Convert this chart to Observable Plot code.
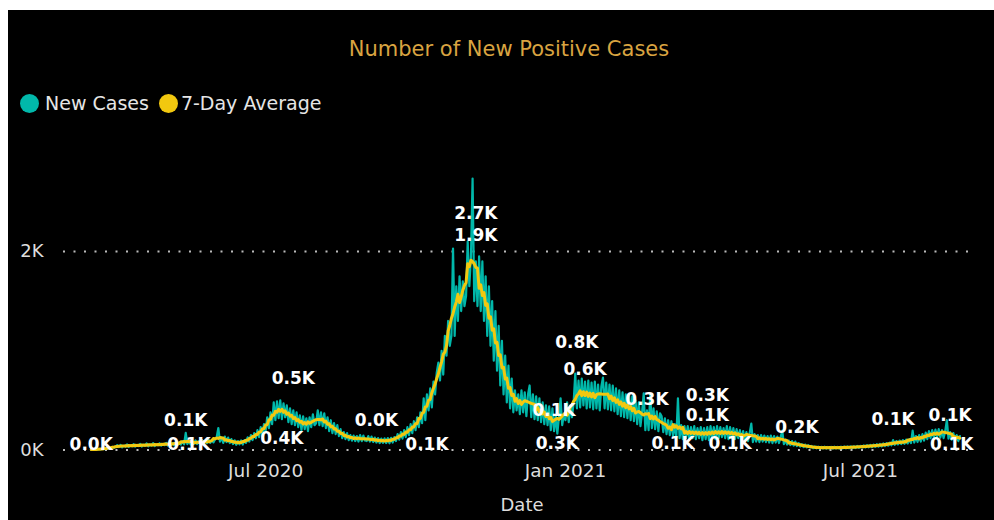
<!DOCTYPE html>
<html>
<head>
<meta charset="utf-8">
<script src="https://cdn.jsdelivr.net/npm/d3@7"></script>
<script src="https://cdn.jsdelivr.net/npm/@observablehq/plot@0.6"></script>
<style>
  html, body { margin: 0; padding: 0; background: #fff; }
  #card { position: absolute; left: 8px; top: 10px; width: 986px; height: 510px; background: #000; overflow: hidden; font-family: "DejaVu Sans", sans-serif; }
  #title { height: 58px; box-sizing: border-box; padding-top: 27px; padding-left: 16px; line-height: 24px; text-align: center; color: #d9a441; font-size: 21px; }
  #legend { height: 70px; box-sizing: border-box; padding-top: 24px; padding-left: 12px; line-height: 22px; color: #e6e6e6; font-size: 19px; white-space: nowrap; }
  #legend .sw { display: inline-block; width: 19px; height: 19px; border-radius: 50%; vertical-align: -3px; }
  #chart svg { display: block; }
</style>
</head>
<body>
<div id="card">
  <div id="title">Number of New Positive Cases</div>
  <div id="legend"><span class="sw" style="background:#01B8AA"></span><span style="margin-left:6px">New Cases</span><span class="sw" style="background:#F2C80F;margin-left:10px"></span><span style="margin-left:3px">7-Day Average</span></div>
  <div id="chart"></div>
</div>
<script>
// Daily new positive cases, starting 2020-03-16
const mar2020 = [2, 5, 1, 8, 4, 12, 6, 15, 9, 18, 12, 25, 16, 32, 22, 35];
const apr2020 = [48, 30, 52, 27, 45, 33, 56, 31, 50, 38, 60, 34, 48, 40, 62, 35, 55, 42, 66, 38, 58, 45, 70, 40, 56, 48, 68, 44, 62, 50];
const may2020 = [72, 45, 78, 50, 70, 48, 82, 52, 76, 55, 88, 58, 172, 60, 92, 56, 85, 62, 96, 60, 88, 66, 100, 64, 94, 70, 104, 72, 98, 76, 108];
const jun2020 = [130, 221, 85, 128, 72, 135, 80, 125, 70, 110, 60, 98, 52, 90, 58, 96, 55, 100, 72, 128, 85, 150, 100, 170, 118, 200, 130, 230, 150, 260];
const jul2020 = [190, 330, 220, 380, 260, 480, 300, 490, 320, 500, 310, 470, 330, 450, 280, 420, 260, 400, 250, 380, 230, 350, 200, 340, 210, 320, 190, 330, 230, 360, 250];
const aug2020 = [270, 400, 250, 380, 240, 370, 220, 330, 190, 300, 170, 270, 160, 250, 140, 210, 120, 180, 110, 170, 100, 150, 95, 145, 90, 140, 85, 150, 90, 145, 95];
const sep2020 = [90, 140, 85, 135, 80, 125, 75, 120, 70, 115, 72, 118, 70, 120, 68, 122, 75, 130, 90, 160, 105, 180, 115, 200, 130, 230, 150, 260, 170, 290];
const oct2020 = [200, 330, 230, 380, 270, 520, 300, 560, 400, 620, 430, 690, 560, 780, 880, 700, 1000, 760, 1150, 950, 1300, 1050, 1150, 2030, 1150, 1650, 1300, 1750, 1400, 1700, 1450];
const nov2020 = [1550, 2100, 1650, 1950, 2735, 1500, 1900, 1450, 1950, 1400, 1900, 1300, 1750, 1150, 1650, 1050, 1500, 900, 1400, 800, 1250, 650, 1100, 560, 950, 480, 850, 420, 720, 380];
const dec2020 = [600, 400, 560, 360, 600, 380, 580, 340, 560, 650, 330, 560, 310, 540, 300, 520, 280, 480, 260, 450, 250, 440, 200, 420, 190, 350, 165, 330, 520, 250, 360];
const jan2021 = [300, 480, 280, 450, 330, 480, 770, 420, 700, 430, 720, 450, 690, 420, 700, 430, 680, 410, 690, 420, 660, 400, 640, 730, 420, 680, 410, 660, 400, 650, 390];
const feb2021 = [620, 360, 600, 340, 580, 330, 560, 320, 560, 300, 540, 290, 500, 260, 480, 240, 380, 570, 200, 400, 200, 560, 220, 420, 210, 390, 190, 370];
const mar2021 = [340, 180, 320, 160, 300, 150, 290, 140, 260, 130, 520, 120, 250, 110, 240, 120, 240, 110, 230, 120, 240, 110, 220, 120, 230, 100, 220, 110, 230, 100, 240];
const apr2021 = [120, 230, 110, 240, 120, 230, 130, 220, 120, 240, 110, 230, 120, 220, 110, 210, 120, 200, 100, 190, 95, 180, 90, 170, 265, 80, 160, 85, 150, 80];
const may2021 = [150, 85, 145, 80, 140, 75, 145, 70, 140, 75, 135, 70, 130, 195, 60, 105, 55, 95, 50, 90, 45, 85, 40, 70, 35, 60, 30, 55, 28, 50, 25];
const jun2021 = [40, 18, 36, 16, 34, 15, 32, 16, 33, 14, 31, 15, 32, 14, 33, 16, 32, 15, 34, 16, 35, 17, 36, 18, 37, 19, 38, 20, 40, 22];
const jul2021 = [42, 25, 45, 26, 48, 28, 52, 30, 55, 32, 58, 34, 62, 36, 66, 40, 70, 44, 75, 48, 100, 52, 90, 56, 95, 60, 100, 62, 105, 66, 110];
const aug2021 = [70, 195, 75, 140, 80, 150, 85, 160, 95, 175, 110, 190, 120, 200, 125, 205, 130, 210, 125, 200, 120, 190, 300, 115, 180, 105, 170, 95, 150, 90, 140];

// Axis ticks
const xTicks = ["2020-07-01", "2021-01-01", "2021-07-01"];
const yTicks = [0, 2000];

// Data labels (date, text, value at which the label sits)
const labelDates = ["2020-03-16","2020-05-13","2020-05-15","2020-07-18","2020-07-11","2020-09-07","2020-10-08","2020-11-07","2020-11-07","2021-01-08","2021-01-13","2020-12-25","2020-12-27","2021-02-20","2021-03-08","2021-03-29","2021-03-29","2021-04-12","2021-05-23","2021-07-21","2021-08-25","2021-08-26"];
const labelTexts = ["0.0K","0.1K","0.1K","0.5K","0.4K","0.0K","0.1K","2.7K","1.9K","0.8K","0.6K","0.1K","0.3K","0.3K","0.1K","0.3K","0.1K","0.1K","0.2K","0.1K","0.1K","0.1K"];
const labelAt = [55, 297, 55, 715, 116, 297, 55, 2383, 2161, 1078, 811, 398, 65, 509, 65, 544, 343, 65, 222, 307, 343, 50];

const daily = [].concat(mar2020, apr2020, may2020, jun2020, jul2020, aug2020, sep2020, oct2020, nov2020, dec2020,
  jan2021, feb2021, mar2021, apr2021, may2021, jun2021, jul2021, aug2021);
const start = Date.UTC(2020, 2, 16);
const data = daily.map((v, i) => ({date: new Date(start + i * 864e5), cases: v}));
const labels = labelDates.map((d, i) => ({date: new Date(d), text: labelTexts[i], y: labelAt[i]}));

const chart = Plot.plot({
  width: 986,
  height: 382,
  marginLeft: 55,
  marginRight: 24,
  marginTop: 33.6,
  marginBottom: 70.5,
  style: {background: "transparent", color: "#dddddd", fontFamily: "DejaVu Sans, sans-serif"},
  x: {type: "utc", domain: [new Date("2020-02-28"), new Date("2021-09-06T12:00")]},
  y: {domain: [0, 2800]},
  marks: [
    Plot.gridY(yTicks, {stroke: "#bbbbbb", strokeOpacity: 1, strokeWidth: 2, strokeDasharray: "2,8.5"}),
    Plot.axisY(yTicks, {tickSize: 0, tickPadding: 20, fontSize: 18, fill: "#dddddd", tickFormat: d => d / 1000 + "K", label: null}),
    Plot.axisX(xTicks.map(d => new Date(d)), {tickSize: 0, tickPadding: 14, fontSize: 18.5, fill: "#dddddd", tickFormat: d3.utcFormat("%b %Y"), label: null}),
    Plot.text(["Date"], {frameAnchor: "bottom", dy: 61, dx: 5, fontSize: 18, fill: "#dddddd"}),
    Plot.line(data, {x: "date", y: "cases", stroke: "#01B8AA", strokeWidth: 2.2}),
    Plot.line(data, Plot.windowY({k: 7, reduce: "mean", anchor: "middle"}, {x: "date", y: "cases", stroke: "#F2C80F", strokeWidth: 3})),
    Plot.text(labels, {x: "date", y: "y", text: "text", fill: "#ffffff", fontSize: 17, fontWeight: "bold", fontFamily: "DejaVu Sans, sans-serif"})
  ]
});
document.getElementById("chart").appendChild(chart);
</script>
</body>
</html>
